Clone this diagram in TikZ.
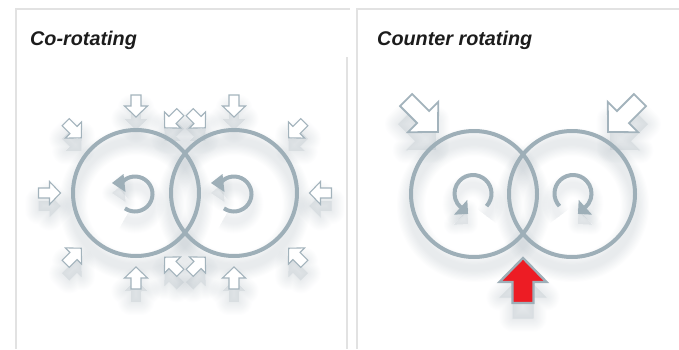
\documentclass[tikz,border=0pt]{standalone}
\usepackage{fontspec}
\setmainfont{Liberation Sans}

\definecolor{ringgray}{RGB}{158,175,184}
\definecolor{edgegray}{RGB}{163,179,188}
\definecolor{framegray}{RGB}{226,226,226}
\definecolor{hotred}{RGB}{237,28,36}
\definecolor{shadegray}{RGB}{100,120,134}
\definecolor{titleink}{RGB}{28,28,28}

\pgfdeclarelayer{shadowlayer}
\pgfsetlayers{shadowlayer,main}

\tikzset{
  ringline/.style={draw=ringgray, line width=4pt},
  panelframe/.style={draw=framegray, line width=1.2pt},
  paneltitle/.style={anchor=base west, inner sep=0pt, text=titleink,
    font=\fontsize{19.8}{22}\selectfont\bfseries\itshape},
  % block arrow outlines, pointing along +x and centred on the origin
  smallarrowshape/.style={insert path={(-11,-5) -- (0,-5) -- (0,-11.5) -- (11,0)
      -- (0,11.5) -- (0,5) -- (-11,5) -- cycle}},
  bigarrowshape/.style={insert path={(-22.5,-8.5) -- (1.5,-8.5) -- (1.5,-21.5) -- (22.5,0)
      -- (1.5,21.5) -- (1.5,8.5) -- (-22.5,8.5) -- cycle}},
  redarrowshape/.style={insert path={(-22.5,-10.5) -- (-1.5,-10.5) -- (-1.5,-23.5) -- (22.5,0)
      -- (-1.5,23.5) -- (-1.5,10.5) -- (-22.5,10.5) -- cycle}},
  % rotation sign with the gap at the bottom, turning counter-clockwise
  spinarc/.style={insert path={(-43:18.5) arc[start angle=-43, end angle=229, radius=18.5]}},
  spinhead/.style={insert path={(-5.69,-6.32) -- (-19.07,-21.18) -- (-4.95,-20.44) -- cycle}},
  % rotation sign with the gap on the left, head pointing left
  undoarc/.style={insert path={(-125:17.5) arc[start angle=-125, end angle=137, radius=17.5]}},
  undohead/.style={insert path={(-23,11) -- (-11.5,20) -- (-9.5,2) -- cycle}},
  % soft drop shadow: the outline filled and stroked ever wider at low opacity
  pics/softshadow/.style={code={
    \foreach \k in {1,...,12}{
      \path[fill=shadegray, draw=shadegray, line join=round, line width=2.2*\k,
            opacity=0.011, #1];
    }}},
  pics/arcshadow/.style 2 args={code={
    \foreach \k in {1,...,10}{
      \path[draw=shadegray, line width=4+2*\k, opacity=0.012, #1];
      \path[fill=shadegray, draw=shadegray, line join=round, line width=2*\k,
            opacity=0.012, #2];
    }}},
  pics/smallarrow/.style={code={
    \path[fill=white, draw=edgegray, line width=1.1pt, smallarrowshape];}},
  pics/bigarrow/.style={code={
    \path[fill=white, draw=edgegray, line width=1.8pt, bigarrowshape];}},
  pics/redarrow/.style={code={
    \path[fill=hotred, draw=ringgray, line width=2.4pt, redarrowshape];}},
  pics/spin/.style 2 args={code={
    \path[draw=ringgray, line width=4pt, #1];
    \path[fill=ringgray, #2];}},
}

% a small inflow arrow with its shadow: x, y, direction
\newcommand\SmallArrowAt[3]{%
  \begin{pgfonlayer}{shadowlayer}
    \pic[rotate=#3] at (#1,#2-13) {softshadow=smallarrowshape};
  \end{pgfonlayer}
  \pic[rotate=#3] at (#1,#2) {smallarrow};}

% a rotor ring with its shadow: x, y
\newcommand\RingAt[2]{%
  \begin{pgfonlayer}{shadowlayer}
    \foreach \k in {1,...,10}{
      \draw[shadegray, opacity=0.016, line width=4+2.4*\k] (#1,#2-11) circle[radius=63];}
  \end{pgfonlayer}
  \draw[ringline] (#1,#2) circle[radius=63];}

% a rotation sign with its shadow: x, y, transformation, arc style, head style
\newcommand\SpinAt[5]{%
  \begin{pgfonlayer}{shadowlayer}
    \pic[#3] at (#1,#2-10) {arcshadow={#4}{#5}};
  \end{pgfonlayer}
  \pic[#3] at (#1,#2) {spin={#4}{#5}};}

\begin{document}
\begin{tikzpicture}[x=1pt, y=1pt]
  \useasboundingbox (0,0) rectangle (679,349);

  % panel frames
  \draw[panelframe] (16,0) -- (16,340) -- (350,340);
  \draw[panelframe] (347,0) -- (347,292);
  \draw[panelframe] (357,0) -- (357,340) -- (679,340);

  % titles
  \node[paneltitle] (cotitle) at (30,304) {Co-rotating};
  \node[paneltitle] (countertitle) at (377,304) {Counter rotating};

  % ---- co-rotating pair ----
  \RingAt{136}{156}
  \RingAt{234}{156}
  \SpinAt{135}{155}{}{undoarc}{undohead}
  \SpinAt{234}{155}{}{undoarc}{undohead}

  % inflow arrows around the left rotor
  \SmallArrowAt{136}{243}{-90}
  \SmallArrowAt{73.5}{219}{-45}
  \SmallArrowAt{49.5}{156}{0}
  \SmallArrowAt{73.5}{93}{45}
  \SmallArrowAt{136}{71}{90}
  \SmallArrowAt{172.5}{229}{-135}
  \SmallArrowAt{172.5}{84}{135}
  % inflow arrows around the right rotor
  \SmallArrowAt{234}{243}{-90}
  \SmallArrowAt{296.5}{219}{-135}
  \SmallArrowAt{320.5}{156}{180}
  \SmallArrowAt{296.5}{93}{135}
  \SmallArrowAt{234}{71}{90}
  \SmallArrowAt{197.5}{229}{-45}
  \SmallArrowAt{197.5}{84}{45}

  % ---- counter-rotating pair ----
  \RingAt{474}{155}
  \RingAt{572}{155}
  \SpinAt{473}{155.5}{}{spinarc}{spinhead}
  \SpinAt{573}{155.5}{xscale=-1}{spinarc}{spinhead}

  % feed arrows from above, and their shadows
  \begin{pgfonlayer}{shadowlayer}
    \pic[rotate=-45] at (420,215) {softshadow=bigarrowshape};
    \pic[rotate=-135] at (626,215) {softshadow=bigarrowshape};
    \pic[rotate=90] at (523,53) {softshadow=redarrowshape};
  \end{pgfonlayer}
  \pic[rotate=-45] (feedleft) at (422,233) {bigarrow};
  \pic[rotate=-135] (feedright) at (624,233) {bigarrow};

  % red arrow into the nip
  \pic[rotate=90] (nip) at (523,68.5) {redarrow};
\end{tikzpicture}
\end{document}
